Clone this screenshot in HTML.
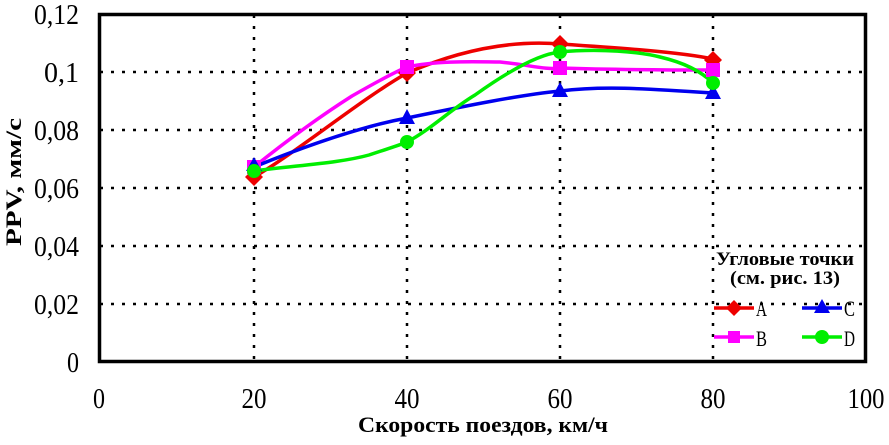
<!DOCTYPE html><html><head><meta charset="utf-8"><style>body{margin:0;background:#fff}</style></head><body>
<svg width="889" height="440" xmlns="http://www.w3.org/2000/svg" font-family="Liberation Serif, serif">
<rect width="889" height="440" fill="#fff"/>
<g stroke="#000" stroke-width="2.5" stroke-dasharray="3,8">
<line x1="100" y1="72" x2="865" y2="72"/><line x1="100" y1="130" x2="865" y2="130"/><line x1="100" y1="188" x2="865" y2="188"/><line x1="100" y1="246" x2="865" y2="246"/><line x1="100" y1="304" x2="865" y2="304"/>
<line x1="254" y1="15" x2="254" y2="361"/><line x1="407" y1="15" x2="407" y2="361"/><line x1="560" y1="15" x2="560" y2="361"/><line x1="713" y1="15" x2="713" y2="361"/>
</g>
<rect x="99.5" y="14.5" width="766" height="347" fill="none" stroke="#000" stroke-width="3.5"/>
<g font-size="28" text-anchor="end">
<text x="79" y="24" textLength="45" lengthAdjust="spacingAndGlyphs">0,12</text><text x="79" y="82" textLength="35" lengthAdjust="spacingAndGlyphs">0,1</text><text x="79" y="140" textLength="45" lengthAdjust="spacingAndGlyphs">0,08</text><text x="79" y="198" textLength="45" lengthAdjust="spacingAndGlyphs">0,06</text><text x="79" y="256" textLength="45" lengthAdjust="spacingAndGlyphs">0,04</text><text x="79" y="314" textLength="45" lengthAdjust="spacingAndGlyphs">0,02</text><text x="79" y="372" textLength="12" lengthAdjust="spacingAndGlyphs">0</text></g>
<g font-size="28" text-anchor="middle">
<text x="99" y="408" textLength="12" lengthAdjust="spacingAndGlyphs">0</text><text x="254" y="408" textLength="25" lengthAdjust="spacingAndGlyphs">20</text><text x="407" y="408" textLength="25" lengthAdjust="spacingAndGlyphs">40</text><text x="560" y="408" textLength="25" lengthAdjust="spacingAndGlyphs">60</text><text x="713" y="408" textLength="25" lengthAdjust="spacingAndGlyphs">80</text><text x="866" y="408" textLength="37" lengthAdjust="spacingAndGlyphs">100</text></g>
<text x="483" y="432" font-size="22" font-weight="bold" text-anchor="middle" textLength="250" lengthAdjust="spacingAndGlyphs">Скорость поездов, км/ч</text>
<text transform="translate(21,182) rotate(-90)" font-size="22" font-weight="bold" text-anchor="middle" textLength="128" lengthAdjust="spacingAndGlyphs">PPV, мм/с</text>
<g fill="none" stroke-width="3.5">
<path d="M254,177 C300,150 360,100 407,73 C460,50 510,40 560,44 C620,48 680,52 713,59" stroke="#e00"/>
<path d="M254,167 C300,130 330,110 352,96 C380,80 395,72 407,67 C440,60 480,62 500,62 C530,65 545,70 560,68 C620,70 680,70 713,70" stroke="#f0f"/>
<path d="M254,167 C320,140 370,125 407,118 C470,105 520,95 560,91 C600,86 640,88 713,93" stroke="#00e"/>
<path d="M254,171 C300,165 340,163 369,155 C390,148 400,145 407,142 C430,130 450,110 475,95 C510,70 540,54 560,52 C600,48 640,52 660,57 C690,64 705,75 713,83" stroke="#0e0"/>
</g>
<g fill="#e00"><path d="M254,168 l9,9 -9,9 -9,-9z"/><path d="M407,64 l9,9 -9,9 -9,-9z"/><path d="M560,35 l9,9 -9,9 -9,-9z"/><path d="M713,51 l9,9 -9,9 -9,-9z"/></g>
<g fill="#f0f"><rect x="247" y="160" width="14" height="14"/><rect x="400" y="60" width="14" height="14"/><rect x="553" y="61" width="14" height="14"/><rect x="706" y="63" width="14" height="14"/></g>
<g fill="#00e"><path d="M254,157 l8,14 h-16z"/><path d="M407,109 l8,15 h-16z"/><path d="M560,82 l8,15 h-16z"/><path d="M713,84 l8,15 h-16z"/></g>
<g fill="#0e0"><circle cx="254" cy="171" r="7"/><circle cx="407" cy="142" r="7"/><circle cx="560" cy="52" r="7"/><circle cx="713" cy="83" r="7"/></g>
<text x="785" y="265" font-size="19" font-weight="bold" text-anchor="middle" textLength="138" lengthAdjust="spacingAndGlyphs">Угловые точки</text>
<text x="785" y="284" font-size="19" font-weight="bold" text-anchor="middle" textLength="110" lengthAdjust="spacingAndGlyphs">(см. рис. 13)</text>
<g stroke-width="3.5"><line x1="714" y1="308" x2="754" y2="308" stroke="#e00"/><line x1="714" y1="337" x2="754" y2="337" stroke="#f0f"/><line x1="802" y1="308" x2="842" y2="308" stroke="#00e"/><line x1="802" y1="337" x2="842" y2="337" stroke="#0e0"/></g>
<path d="M734,300 l8,8 -8,8 -8,-8z" fill="#e00"/><rect x="728" y="331" width="12" height="12" fill="#f0f"/><path d="M822,299 l8,14 h-16z" fill="#00e"/><circle cx="822" cy="337" r="7" fill="#0e0"/>
<g font-size="22"><text x="756" y="316" textLength="11" lengthAdjust="spacingAndGlyphs">A</text><text x="756" y="346" textLength="11" lengthAdjust="spacingAndGlyphs">B</text><text x="844" y="316" textLength="11" lengthAdjust="spacingAndGlyphs">C</text><text x="844" y="346" textLength="11" lengthAdjust="spacingAndGlyphs">D</text></g>
</svg></body></html>
